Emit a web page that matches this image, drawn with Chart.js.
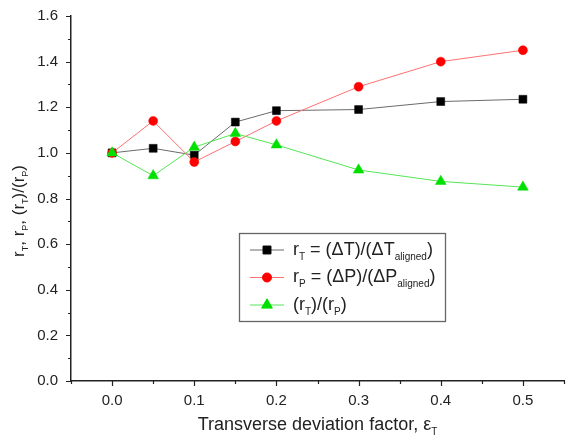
<!DOCTYPE html>
<html>
<head>
<meta charset="utf-8">
<script src="https://cdn.jsdelivr.net/npm/chart.js@4"></script>
<style>
  html, body { margin: 0; padding: 0; background: #fff; }
  #wrap { width: 566px; height: 439px; }
</style>
</head>
<body>
<div id="wrap"><canvas id="myChart" width="566" height="439"></canvas></div>
<script>
// Values
const xValues = [0, 0.05, 0.1, 0.15, 0.2, 0.3, 0.4, 0.5];
const rT = [1.0, 1.02, 0.99, 1.135, 1.185, 1.19, 1.225, 1.235];
const rP = [1.0, 1.14, 0.96, 1.05, 1.14, 1.29, 1.40, 1.45];
const rTrP = [1.0, 0.90, 1.025, 1.085, 1.035, 0.925, 0.875, 0.85];

const xTickLabels = ['0.0', '0.1', '0.2', '0.3', '0.4', '0.5'];
const yTickLabels = ['0.0', '0.2', '0.4', '0.6', '0.8', '1.0', '1.2', '1.4', '1.6'];

// rich text pieces: [text, isSubscript]
const legendTexts = [
    [['r', 0], ['T', 1], [' = (ΔT)/(ΔT', 0], ['aligned', 1], [')', 0]],
    [['r', 0], ['P', 1], [' = (ΔP)/(ΔP', 0], ['aligned', 1], [')', 0]],
    [['(r', 0], ['T', 1], [')/(r', 0], ['P', 1], [')', 0]]
];
const xTitle = [['Transverse deviation factor, ε', 0], ['T', 1]];
const yTitle = [['r', 0], ['T', 1], [', r', 0], ['P', 1], [', (r', 0], ['T', 1], [')/(r', 0], ['P', 1], [')', 0]];

const FONT = '"Liberation Sans", Arial, sans-serif';
const TEXT_COLOR = '#222';

// Draw text with subscripts, centered on x unless align is 'left'
function drawRich(ctx, parts, x, y, size, align) {
    const mainFont = `${size}px ${FONT}`;
    const subFont = `${Math.round(size * 0.55)}px ${FONT}`;
    let total = 0;
    parts.forEach(([t, sub]) => {
        ctx.font = sub ? subFont : mainFont;
        total += ctx.measureText(t).width;
    });
    let cx = align === 'left' ? x : x - total / 2;
    ctx.textAlign = 'left';
    ctx.textBaseline = 'middle';
    parts.forEach(([t, sub]) => {
        ctx.font = sub ? subFont : mainFont;
        ctx.fillText(t, cx, sub ? y + size * 0.4 : y);
        cx += ctx.measureText(t).width;
    });
}

const extrasPlugin = {
    id: 'extras',
    afterDraw(chart) {
        const ctx = chart.ctx;
        const xs = chart.scales.x;
        const ys = chart.scales.y;
        ctx.save();

        // tick marks, major ones longer
        ctx.strokeStyle = TEXT_COLOR;
        ctx.lineWidth = 1.2;
        ctx.beginPath();
        xs.ticks.forEach((t) => {
            const px = Math.round(xs.getPixelForValue(t.value)) + 0.5;
            const major = Math.round(t.value * 100) % 10 === 0;
            ctx.moveTo(px, ys.bottom);
            ctx.lineTo(px, ys.bottom + (major ? 5 : 3));
        });
        ys.ticks.forEach((t) => {
            const py = Math.round(ys.getPixelForValue(t.value)) + 0.5;
            const major = Math.round(t.value * 10) % 2 === 0;
            ctx.moveTo(xs.left, py);
            ctx.lineTo(xs.left - (major ? 5 : 3), py);
        });
        ctx.stroke();

        // axis titles
        ctx.fillStyle = TEXT_COLOR;
        drawRich(ctx, xTitle, (xs.left + xs.right) / 2, 425, 18);
        ctx.save();
        ctx.translate(19, 211);
        ctx.rotate(-Math.PI / 2);
        drawRich(ctx, yTitle, 0, 0, 17);
        ctx.restore();

        // legend box
        const bx = 239, by = 233, bw = 206, bh = 88;
        ctx.fillStyle = '#fff';
        ctx.fillRect(bx, by, bw, bh);
        ctx.strokeStyle = '#666';
        ctx.lineWidth = 1.3;
        ctx.strokeRect(bx + 0.5, by + 0.5, bw, bh);

        chart.data.datasets.forEach((ds, i) => {
            const y = 250 + i * 27.5;
            ctx.strokeStyle = ds.borderColor;
            ctx.lineWidth = 1;
            ctx.beginPath();
            ctx.moveTo(250, y);
            ctx.lineTo(284, y);
            ctx.stroke();
            ctx.fillStyle = ds.pointBackgroundColor;
            ctx.strokeStyle = ds.pointBorderColor;
            Chart.helpers.drawPoint(ctx, {
                pointStyle: ds.pointStyle,
                radius: ds.pointRadius,
                rotation: 0,
                borderWidth: ds.pointBorderWidth
            }, 267, y);
            ctx.fillStyle = TEXT_COLOR;
            drawRich(ctx, legendTexts[i], 293, y, 18, 'left');
        });
        ctx.restore();
    }
};

function toPoints(ys) {
    return xValues.map((x, i) => ({ x: x, y: ys[i] }));
}

function drawChart() {
    const ctx = document.getElementById('myChart').getContext('2d');
    const chart = new Chart(ctx, {
        type: 'line',
        data: {
            datasets: [
                {
                    data: toPoints(rT),
                    borderColor: '#6a6a6a',
                    borderWidth: 1,
                    pointStyle: 'rect',
                    pointRadius: 5.6,
                    pointBackgroundColor: '#000',
                    pointBorderColor: '#000',
                    pointBorderWidth: 0.5,
                    order: 3
                },
                {
                    data: toPoints(rP),
                    borderColor: '#ff7070',
                    borderWidth: 1,
                    pointStyle: 'circle',
                    pointRadius: 4.5,
                    pointBackgroundColor: '#ff0000',
                    pointBorderColor: '#ff0000',
                    pointBorderWidth: 0.5,
                    order: 2
                },
                {
                    data: toPoints(rTrP),
                    borderColor: '#55e655',
                    borderWidth: 1,
                    pointStyle: 'triangle',
                    pointRadius: 6.2,
                    pointBackgroundColor: '#00e000',
                    pointBorderColor: '#00e000',
                    pointBorderWidth: 0.5,
                    order: 1
                }
            ]
        },
        options: {
            responsive: false,
            animation: false,
            events: [],
            layout: { autoPadding: false, padding: { top: 16, right: 2, left: 0, bottom: 0 } },
            plugins: {
                legend: { display: false },
                tooltip: { enabled: false }
            },
            scales: {
                x: {
                    type: 'linear',
                    min: -0.05,
                    max: 0.55,
                    afterFit: (s) => {
                        s.height = 58;
                        s.paddingLeft = 0;
                        s.paddingRight = 0;
                    },
                    grid: { display: false, drawTicks: false },
                    border: { display: true, color: TEXT_COLOR, width: 1.5 },
                    ticks: {
                        stepSize: 0.05,
                        autoSkip: false,
                        maxRotation: 0,
                        padding: 11,
                        color: TEXT_COLOR,
                        font: { family: FONT, size: 15 },
                        callback: (v) => {
                            const k = Math.round(v * 100);
                            if (k % 10 !== 0 || k < 0 || k > 50) return '';
                            return xTickLabels[k / 10];
                        }
                    }
                },
                y: {
                    min: 0,
                    max: 1.6,
                    afterFit: (s) => {
                        s.width = 71;
                        s.paddingTop = 0;
                        s.paddingBottom = 0;
                    },
                    grid: { display: false, drawTicks: false },
                    border: { display: true, color: TEXT_COLOR, width: 1.5 },
                    ticks: {
                        stepSize: 0.1,
                        autoSkip: false,
                        padding: 13,
                        color: TEXT_COLOR,
                        font: { family: FONT, size: 15 },
                        callback: (v) => {
                            const k = Math.round(v * 10);
                            if (k % 2 !== 0) return '';
                            return yTickLabels[k / 2];
                        }
                    }
                }
            }
        },
        plugins: [extrasPlugin]
    });
}

drawChart();
</script>
</body>
</html>
